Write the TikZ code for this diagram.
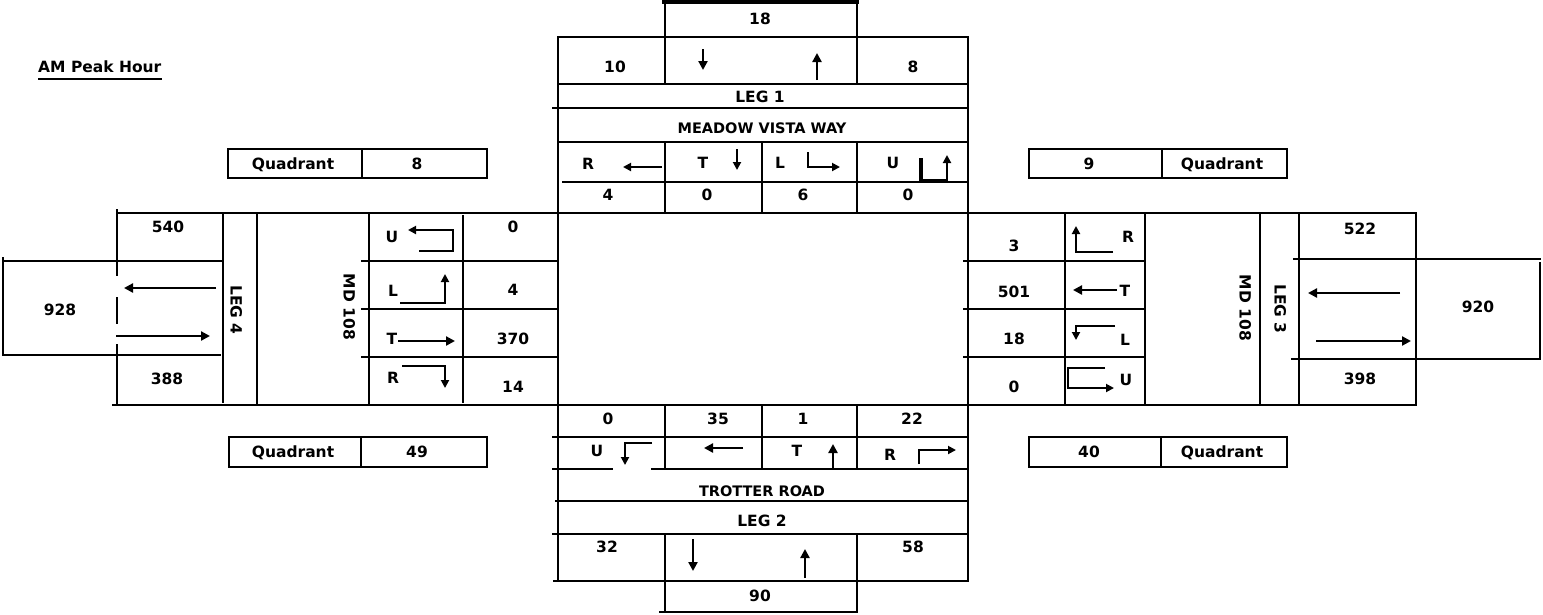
\documentclass[tikz,border=0pt]{standalone}
\usepackage{fontspec}
\setmainfont{DejaVu Sans}
\usetikzlibrary{arrows.meta}
\begin{document}
\begin{tikzpicture}[x=1pt,y=-1pt,
  ln/.style={line width=2.4pt, line cap=rect},
  thk/.style={line width=3.2pt, line cap=rect},
  qb/.style={line width=2.6pt},
  tarr/.style={line width=1.9pt, -{Triangle[length=8pt,width=8pt]}},
  larr/.style={line width=2.4pt, -{Triangle[length=9pt,width=9pt]}},
  lbl/.style={font=\bfseries\fontsize{15.5}{18}\selectfont, inner sep=0pt, text height=11pt, text depth=0pt},
  capl/.style={font=\bfseries\fontsize{14.5}{17}\selectfont, inner sep=0pt, text height=10.5pt, text depth=0pt},
]
\path[fill=white] (0,0) rectangle (1543,614);
\useasboundingbox (0,0) rectangle (1543,614);

% ---------- title ----------
\node[lbl, anchor=west] (title) at (38,67) {AM Peak Hour};
\draw[line width=1.6pt] (title.south west) ++(0,6) -- ++(124,0);

% ---------- quadrant boxes ----------
\draw[qb] (228,149) rectangle (487,178); \draw[qb] (362,149) -- (362,178);
\node[lbl] (qtl) at (293,164) {Quadrant}; \node[lbl] (qtlv) at (417,164) {8};
\draw[qb] (1029,149) rectangle (1287,178); \draw[qb] (1162,149) -- (1162,178);
\node[lbl] (qtrv) at (1089,164) {9}; \node[lbl] (qtr) at (1222,164) {Quadrant};
\draw[qb] (229,437) rectangle (487,467); \draw[qb] (361,437) -- (361,467);
\node[lbl] (qbl) at (293,452) {Quadrant}; \node[lbl] (qblv) at (417,452) {49};
\draw[qb] (1029,437) rectangle (1287,467); \draw[qb] (1161,437) -- (1161,467);
\node[lbl] (qbrv) at (1089,452) {40}; \node[lbl] (qbr) at (1222,452) {Quadrant};

% ---------- LEG 1 (top) ----------
\draw[thk] (664,2) -- (857,2);
\draw[ln] (665,2) -- (665,37) (857,2) -- (857,37);
\draw[ln] (558,37) -- (968,37);
\draw[ln] (558,37) -- (558,581) (968,37) -- (968,581);
\draw[ln] (665,37) -- (665,84) (857,37) -- (857,84);
\draw[ln] (558,84) -- (968,84);
\draw[ln] (553,108) -- (968,108);
\draw[ln] (558,142) -- (968,142);
\draw[ln] (665,144) -- (665,212) (762,142) -- (762,212) (857,142) -- (857,212);
\draw[ln] (563,182) -- (968,182);

\node[lbl] (n18) at (760,19) {18};
\node[lbl] (n10) at (615,67) {10};
\node[lbl] (n8) at (913,67) {8};
\draw[larr] (703,49) -- (703,70);
\draw[larr] (817,80) -- (817,53);
\node[lbl] (leg1) at (760,97) {LEG 1};
\node[capl] (mvw) at (762,128) {MEADOW VISTA WAY};

\node[lbl] (t1r) at (588,164) {R};
\draw[tarr] (662,167) -- (623,167);
\node[lbl] (t1t) at (703,163) {T};
\draw[tarr] (737,149) -- (737,170);
\node[lbl] (t1l) at (780,163) {L};
\draw[tarr] (808,152) -- (808,167) -- (840,167);
\node[lbl] (t1u) at (893,163) {U};
\draw[line width=4.5pt] (921,158) -- (921,181);
\draw[tarr] (920,180) -- (947,180) -- (947,155);

\node[lbl] (v1r) at (608,195) {4};
\node[lbl] (v1t) at (707,195) {0};
\node[lbl] (v1l) at (803,195) {6};
\node[lbl] (v1u) at (908,195) {0};

% ---------- main horizontals ----------
\draw[ln] (117,213) -- (1416,213);
\draw[ln] (113,405) -- (1416,405);

% ---------- LEG 4 (left) ----------
\draw[ln] (117,210) -- (117,275) (117,298) -- (117,323) (117,345) -- (117,405);
\draw[ln] (3,261) -- (223,261) (3,355) -- (220,355) (3,258) -- (3,355);
\draw[ln] (223,213) -- (223,402) (257,213) -- (257,405);
\draw[ln] (369,213) -- (369,405);
\draw[ln] (463,216) -- (463,402);
\draw[ln] (362,261) -- (558,261) (362,309) -- (558,309) (362,357) -- (558,357);

\node[lbl] (n540) at (168,227) {540};
\node[lbl] (n928) at (60,310) {928};
\node[lbl] (n388) at (167,379) {388};
\draw[larr] (216,288) -- (124,288);
\draw[larr] (116,336) -- (210,336);
\node[lbl, rotate=-90] (leg4) at (236,310) {LEG 4};
\node[lbl, rotate=-90] (md4) at (349,307) {MD 108};

\node[lbl] (t4u) at (392,237) {U};
\draw[tarr] (419,251) -- (453,251) -- (453,230) -- (408,230);
\node[lbl] (t4l) at (393,291) {L};
\draw[tarr] (400,303) -- (445,303) -- (445,274);
\node[lbl] (t4t) at (392,339) {T};
\draw[larr] (398,341) -- (455,341);
\node[lbl] (t4r) at (393,378) {R};
\draw[tarr] (402,366) -- (445,366) -- (445,388);

\node[lbl] (v4u) at (513,227) {0};
\node[lbl] (v4l) at (513,290) {4};
\node[lbl] (v4t) at (513,339) {370};
\node[lbl] (v4r) at (513,387) {14};

% ---------- LEG 3 (right) ----------
\draw[ln] (964,261) -- (1145,261) (964,309) -- (1145,309) (964,357) -- (1145,357);
\draw[ln] (1065,213) -- (1065,405) (1145,213) -- (1145,405);
\draw[ln] (1260,213) -- (1260,405) (1299,213) -- (1299,405) (1416,213) -- (1416,405);
\draw[ln] (1294,259) -- (1540,259) (1292,359) -- (1540,359) (1540,263) -- (1540,359);

\node[lbl] (v3r) at (1014,246) {3};
\node[lbl] (v3t) at (1014,292) {501};
\node[lbl] (v3l) at (1014,339) {18};
\node[lbl] (v3u) at (1014,387) {0};

\node[lbl] (t3r) at (1128,237) {R};
\draw[tarr] (1113,252) -- (1076,252) -- (1076,226);
\node[lbl] (t3t) at (1125,291) {T};
\draw[larr] (1117,290) -- (1073,290);
\node[lbl] (t3l) at (1125,340) {L};
\draw[tarr] (1115,326) -- (1076,326) -- (1076,340);
\node[lbl] (t3u) at (1126,380) {U};
\draw[tarr] (1105,368) -- (1068,368) -- (1068,388) -- (1114,388);

\node[lbl, rotate=-90] (md3) at (1245,308) {MD 108};
\node[lbl, rotate=-90] (leg3) at (1280,309) {LEG 3};
\node[lbl] (n522) at (1360,229) {522};
\node[lbl] (n398) at (1360,379) {398};
\node[lbl] (n920) at (1478,307) {920};
\draw[larr] (1400,293) -- (1308,293);
\draw[larr] (1316,341) -- (1411,341);

% ---------- LEG 2 (bottom) ----------
\draw[ln] (553,437) -- (968,437);
\draw[ln] (553,469) -- (612,469) (652,469) -- (968,469);
\draw[ln] (556,501) -- (968,501);
\draw[ln] (553,534) -- (968,534);
\draw[ln] (554,581) -- (968,581);
\draw[ln] (665,405) -- (665,469) (762,405) -- (762,469) (857,405) -- (857,469);
\draw[ln] (665,534) -- (665,612) (857,534) -- (857,612);
\draw[ln] (660,612) -- (857,612);

\node[lbl] (v2u) at (608,419) {0};
\node[lbl] (v2a) at (718,419) {35};
\node[lbl] (v2t) at (803,419) {1};
\node[lbl] (v2r) at (912,419) {22};

\node[lbl] (t2u) at (597,451) {U};
\draw[tarr] (652,443) -- (625,443) -- (625,465);
\draw[larr] (743,448) -- (704,448);
\node[lbl] (t2t) at (797,451) {T};
\draw[larr] (833,469) -- (833,444);
\node[lbl] (t2r) at (890,455) {R};
\draw[tarr] (919,464) -- (919,450) -- (956,450);

\node[capl] (trr) at (762,491) {TROTTER ROAD};
\node[lbl] (leg2) at (762,521) {LEG 2};
\node[lbl] (n32) at (607,547) {32};
\node[lbl] (n58) at (913,547) {58};
\draw[larr] (693,539) -- (693,571);
\draw[larr] (805,578) -- (805,549);
\node[lbl] (n90) at (760,596) {90};
\end{tikzpicture}
\end{document}
